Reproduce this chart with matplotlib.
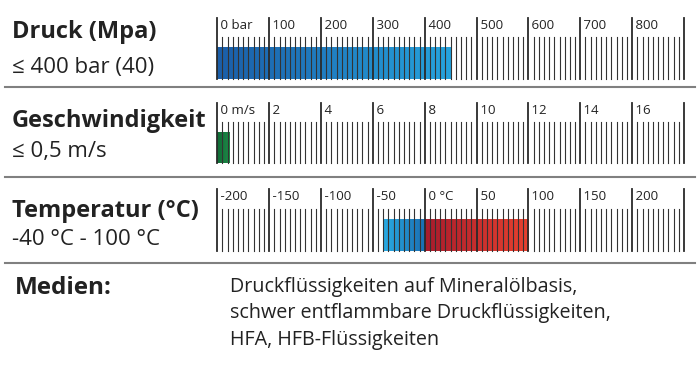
import matplotlib
matplotlib.use("Agg")
import matplotlib.pyplot as plt
import numpy as np
from matplotlib.colors import LinearSegmentedColormap
from matplotlib.lines import Line2D

plt.rcParams['font.family'] = ['Open Sans', 'DejaVu Sans']

# Druck (bar)
druck_ticks = [0, 100, 200, 300, 400, 500, 600, 700, 800, 900]
druck_labels = ['0 bar', '100', '200', '300', '400', '500', '600', '700', '800', '']
druck_bar = (0, 450)

# Geschwindigkeit (m/s)
speed_ticks = [0, 2, 4, 6, 8, 10, 12, 14, 16, 18]
speed_labels = ['0 m/s', '2', '4', '6', '8', '10', '12', '14', '16', '']
speed_bar = (0, 0.5)

# Temperatur (°C)
temp_ticks = [-200, -150, -100, -50, 0, 50, 100, 150, 200, 250]
temp_labels = ['-200', '-150', '-100', '-50', '0 °C', '50', '100', '150', '200', '']
temp_cold = (-40, 0)
temp_hot = (0, 100)

titles = ['Druck (Mpa)', 'Geschwindigkeit', 'Temperatur (°C)']
subtitles = ['≤ 400 bar (40)', '≤ 0,5 m/s', '-40 °C - 100 °C']
medien = ['Druckflüssigkeiten auf Mineralölbasis,',
          'schwer entflammbare Druckflüssigkeiten,',
          'HFA, HFB-Flüssigkeiten']

W, H = 700, 367
fig = plt.figure(figsize=(7, 3.67), dpi=100)


def fx(px):
    return px / W


def fy(py):
    return 1 - py / H


def cmap(c1, c2):
    return LinearSegmentedColormap.from_list('g', [c1, c2])


def scale(top, bottom, ticks, labels, bars):
    ax = fig.add_axes([fx(217.3), fy(bottom), fx(684) - fx(217.3), (bottom - top) / H])
    ax.set_xlim(ticks[0], ticks[-1])
    ax.set_ylim(0, 1)
    ax.axis('off')
    bar_top = 0.51
    for (a, b), cm in bars:
        grad = np.linspace(0, 1, 256).reshape(1, -1)
        ax.imshow(grad, cmap=cm, aspect='auto', extent=[a, b, 0, bar_top],
                  interpolation='bilinear', zorder=1)
    step = (ticks[1] - ticks[0]) / 10
    for t0 in ticks[:-1]:
        for k in range(1, 10):
            ax.plot([t0 + k * step] * 2, [0, 0.68], color='#333333', lw=0.8,
                    zorder=2, clip_on=False)
    for t, lab in zip(ticks, labels):
        ax.plot([t, t], [0, 1], color='#2a2a2a', lw=1.3, zorder=3, clip_on=False)
        ax.text(t, 0.82, ' ' + lab if lab else '', fontsize=9.5, color='#222222',
                va='baseline', ha='left')
    ax.set_xlim(ticks[0], ticks[-1])
    return ax


scale(17.7, 79, druck_ticks, druck_labels,
      [(druck_bar, cmap('#1b5ea8', '#26a3dd'))])
scale(102.7, 163.3, speed_ticks, speed_labels,
      [(speed_bar, cmap('#0f6a35', '#1f8a48'))])
scale(189.3, 251, temp_ticks, temp_labels,
      [(temp_cold, cmap('#2aabe2', '#1a6fb3')),
       (temp_hot, cmap('#a81c2c', '#e8412f'))])

# left labels
for t, s, yb, ys in zip(titles, subtitles, [38.3, 126.7, 216.7], [73.3, 156.7, 245]):
    fig.text(fx(12), fy(yb), t, fontsize=17, fontweight='bold', color='#222222',
             va='baseline')
    fig.text(fx(12), fy(ys), s, fontsize=16, color='#222222', va='baseline')

# separators
for yl in [86.7, 176.7, 263]:
    fig.add_artist(Line2D([fx(5), fx(695)], [fy(yl), fy(yl)], color='#808080', lw=1.5))

fig.text(fx(15), fy(294.3), 'Medien:', fontsize=17.5, fontweight='bold', color='#222222',
         va='baseline')
for i, line in enumerate(medien):
    fig.text(fx(230), fy(291.7 + 26.4 * i), line, fontsize=14.2, color='#222222',
             va='baseline')

fig.savefig('out.png', dpi=100)
